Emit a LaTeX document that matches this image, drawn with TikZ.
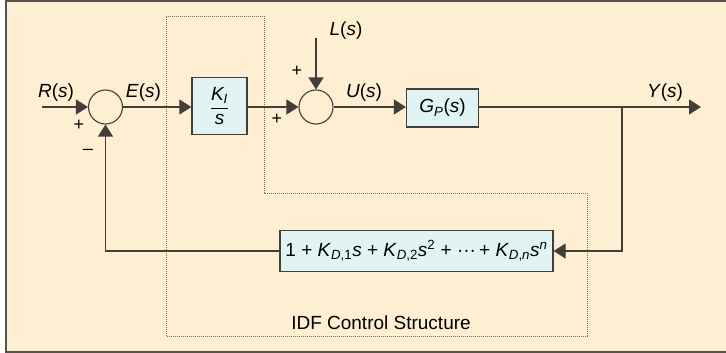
\documentclass[tikz,border=0pt]{standalone}
\usepackage{amsmath}
\usepackage{fontspec}
\setmainfont{Liberation Sans}
\usetikzlibrary{positioning,arrows.meta,calc}
\definecolor{peach}{RGB}{254,239,211}
\definecolor{paleteal}{RGB}{226,243,243}
\definecolor{linegrey}{RGB}{66,62,58}
\definecolor{framegrey}{RGB}{88,82,76}
\definecolor{dotgrey}{RGB}{110,110,110}
\newcommand{\SIG}[1]{\textit{#1}(\textit{s})}
\newcommand{\KD}[1]{\textit{K}\textsubscript{\textit{D},#1}}
\tikzset{
  blk/.style ={draw=linegrey,fill=paleteal,line width=1.3pt,inner sep=0pt,font=\fontsize{19}{21}\selectfont},
  sumc/.style={draw=linegrey,circle,line width=1.1pt,minimum size=34pt,inner sep=0pt},
  ar/.style  ={-{Triangle[length=12pt,width=15pt]},draw=linegrey,line width=1.2pt},
  lbl/.style ={font=\fontsize{19}{21}\selectfont,inner sep=0pt},
  sgn/.style ={font=\fontsize{18}{19}\selectfont,inner sep=0pt},
}
\begin{document}
\begin{tikzpicture}[x=1pt,y=-1pt]
\useasboundingbox (0,0) rectangle (726,353);
\fill[peach] (6,1) rectangle (726,352);
\draw[framegrey,line width=2pt] (726,1) -- (6,1) -- (6,352) -- (726,352);

% IDF region
\draw[dotgrey,line width=0.9pt,dash pattern=on 1pt off 1pt]
  (166,16) -- (264,16) -- (264,193) -- (587,193) -- (587,336) -- (166,336) -- cycle;
\node[lbl] (idf) at (381,323) {IDF Control Structure};

% forward path
\coordinate (rin) at (42,107);
\node[sumc] (s1) at (105.5,107) {};
\node[blk,minimum width=55pt,minimum height=57pt] (ki) at (219.5,106)
  {$\dfrac{\textit{K}_{\textit{I}}}{\textit{s}}$};
\node[sumc] (s2) at (316,107) {};
\node[blk,minimum width=72pt,minimum height=38pt] (gp) at (442.5,108)
  {\textit{G}\textsubscript{\textit{P}}(\textit{s})};
\coordinate (tap) at (622,107);
\coordinate (yout) at (701,107);
\coordinate (lin) at (316,38);

% feedback path
\node[blk,minimum width=273pt,minimum height=41pt] (fb) at (416.5,251)
  {1 + \KD{1}\textit{s} + \KD{2}\textit{s}\textsuperscript{2} + ···\,+ \KD{\textit{n}}\textit{s}\textsuperscript{\textit{n}}};
\coordinate (fbr) at (tap |- fb);
\coordinate (fbl) at (s1 |- fb);

\draw[ar] (rin) -- (s1);
\draw[ar] (s1) -- (s1 -| ki.west);
\draw[ar] (s1 -| ki.east) -- (s2);
\draw[ar] (lin) -- (s2);
\draw[ar] (s2) -- (s2 -| gp.west);
\draw[ar] (s2 -| gp.east) -- (yout);
\draw[ar] (tap) -- (fbr) -- (fb);
\draw[ar] (fb) -- (fbl) -- (s1);

% signals and signs
\node[lbl] (rl) at (56,93) {\SIG{R}};
\node[lbl] (el) at (143.5,93) {\SIG{E}};
\node[lbl] (ll) at (346,31) {\SIG{L}};
\node[lbl] (ul) at (364,93) {\SIG{U}};
\node[lbl] (yl) at (665,93) {\SIG{Y}};
\node[sgn] (p1) at (79,125) {+};
\node[sgn] (m1) at (88,152) {–};
\node[sgn] (p2) at (277,119) {+};
\node[sgn] (p3) at (297,71) {+};
\end{tikzpicture}
\end{document}
